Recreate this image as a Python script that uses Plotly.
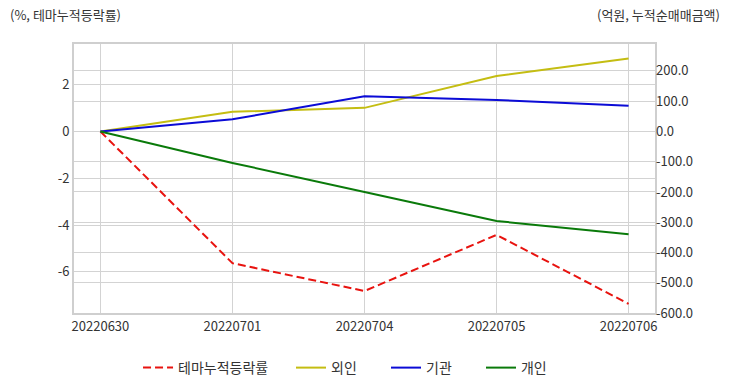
import plotly.graph_objects as go

dates = ["20220630", "20220701", "20220704", "20220705", "20220706"]
theme_pct = [0.0, -5.63, -6.82, -4.42, -7.37]
foreign = [0.0, 65.0, 78.0, 183.0, 241.0]
institution = [0.0, 40.0, 116.0, 104.0, 85.0]
individual = [0.0, -104.0, -200.0, -296.0, -340.0]

left_ticks = [-6, -4, -2, 0, 2]
left_labels = ["-6", "-4", "-2", "0", "2"]
right_ticks = [-600, -500, -400, -300, -200, -100, 0, 100, 200]
right_labels = ["-600.0", "-500.0", "-400.0", "-300.0", "-200.0", "-100.0", "0.0", "100.0", "200.0"]

FONT = "Noto Sans CJK KR"
fig = go.Figure()
fig.add_trace(go.Scatter(x=dates, y=theme_pct, name="테마누적등락률", mode="lines",
                         line=dict(color="#e8130f", width=2, dash="8px,4px"), yaxis="y",
                         legend="legend"))
fig.add_trace(go.Scatter(x=dates, y=foreign, name="외인", mode="lines",
                         line=dict(color="#c4bd12", width=2), yaxis="y2", legend="legend2"))
fig.add_trace(go.Scatter(x=dates, y=institution, name="기관", mode="lines",
                         line=dict(color="#0b0bd6", width=2), yaxis="y2", legend="legend3"))
fig.add_trace(go.Scatter(x=dates, y=individual, name="개인", mode="lines",
                         line=dict(color="#0a7a0a", width=2), yaxis="y2", legend="legend4"))

leg_common = dict(orientation="h", y=-0.2045, yanchor="middle", xanchor="left",
                  font=dict(size=14, color="#333333"), bgcolor="rgba(0,0,0,0)")

fig.update_layout(
    width=732, height=392,
    margin=dict(l=74, r=77, t=44, b=79, autoexpand=False),
    plot_bgcolor="white", paper_bgcolor="white",
    font=dict(family=FONT, size=13, color="#333333"),
    xaxis=dict(type="category", range=[-0.2, 4.2], showgrid=True, gridcolor="#d3d3d3",
               showline=True, linecolor="#cfcfcf", linewidth=2, mirror=True,
               ticks="", tickfont=dict(size=13, color="#333333"), automargin=False),
    yaxis=dict(range=[-7.76, 3.74], tickvals=left_ticks, ticktext=left_labels,
               showgrid=True, gridcolor="#d3d3d3",
               zeroline=False, showline=True, linecolor="#cfcfcf", linewidth=2, mirror=True,
               ticks="", tickfont=dict(size=13, color="#333333"), automargin=False),
    yaxis2=dict(range=[-600, 289], tickvals=right_ticks, ticktext=right_labels,
                overlaying="y", side="right",
                showgrid=True, gridcolor="#d3d3d3", zeroline=False,
                ticks="", tickfont=dict(size=13, color="#333333"), automargin=False),
    legend=dict(x=0.1102, **leg_common),
    legend2=dict(x=0.3735, **leg_common),
    legend3=dict(x=0.537, **leg_common),
    legend4=dict(x=0.7005, **leg_common),
    showlegend=True,
    annotations=[
        dict(text="(%, 테마누적등락률)", xref="paper", yref="paper", x=-0.113, y=1.0,
             xanchor="left", yanchor="bottom", yshift=18, showarrow=False,
             font=dict(size=13, color="#333333")),
        dict(text="(억원, 누적순매매금액)", xref="paper", yref="paper", x=1.115, y=1.0,
             xanchor="right", yanchor="bottom", yshift=18, showarrow=False,
             font=dict(size=13, color="#333333")),
    ],
)
fig.write_html("out.html", post_script="document.body.style.margin='0';",
               config={"displayModeBar": False})
